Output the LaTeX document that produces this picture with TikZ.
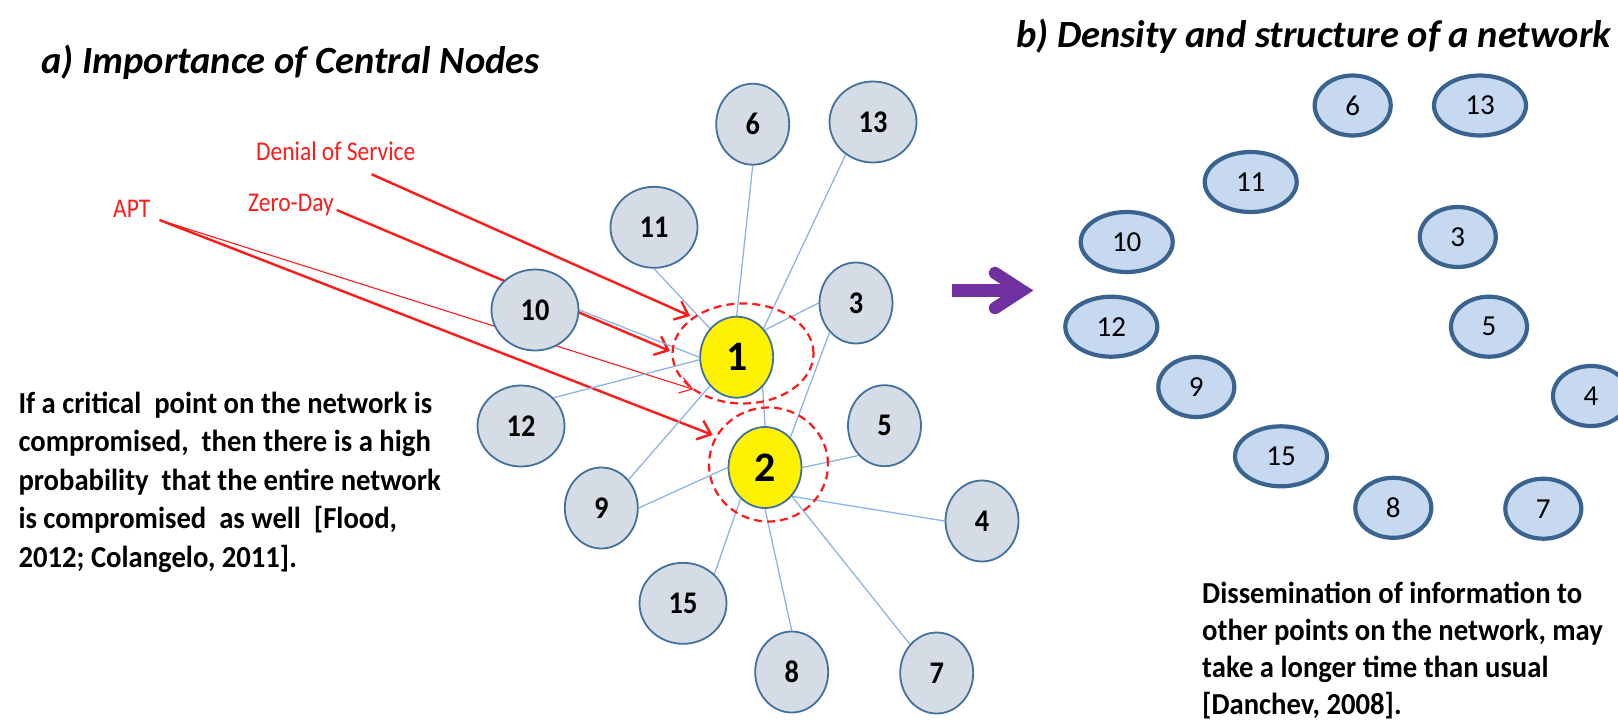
\documentclass[tikz,border=0pt]{standalone}
\usepackage{fontspec}
\setmainfont{Carlito}
\newfontfamily\peerfont{Carlito}[FakeStretch=0.9]
\newfontfamily\labelfont{Carlito}[FakeStretch=0.87]
\newfontfamily\parafont{Carlito}[FakeStretch=0.94]
\usetikzlibrary{shapes.geometric,arrows.meta,backgrounds}

\definecolor{nodefill}{HTML}{D6DCE5}
\definecolor{nodeline}{HTML}{41719C}
\definecolor{isofill}{HTML}{C6D9F1}
\definecolor{isoline}{HTML}{3A6390}
\definecolor{linkblue}{HTML}{8EB4E3}
\definecolor{attackred}{HTML}{FF1A1A}
\definecolor{arrowpurple}{HTML}{7030A0}

\begin{document}
\begin{tikzpicture}[x=1pt,y=-1pt,
  peer/.style={ellipse, draw=nodeline, line width=1.8pt, fill=nodefill,
    minimum width=73pt, minimum height=81pt, inner sep=0pt,
    font=\peerfont\bfseries\fontsize{31.5}{31.5}\selectfont},
  peerwide/.style={peer, minimum width=87pt},
  hub/.style={peer, fill=yellow, font=\bfseries\fontsize{42}{42}\selectfont},
  iso/.style={ellipse, draw=isoline, line width=4.2pt, fill=isofill,
    minimum width=76pt, minimum height=60pt, inner sep=0pt,
    font=\fontsize{29}{29}\selectfont},
  isowide/.style={iso, minimum width=92pt},
  ring/.style={ellipse, draw=attackred, line width=2.2pt,
    dash pattern=on 8pt off 5pt, inner sep=0pt},
  link/.style={draw=linkblue, line width=1.3pt},
  attack/.style={draw=attackred, line width=2.4pt,
    -{Straight Barb[length=12pt,width=20pt]}},
  attackthin/.style={draw=attackred, line width=1.1pt,
    -{Straight Barb[length=12pt,width=16pt]}},
  lab/.style={text=attackred, inner sep=0pt, anchor=base west,
    font=\labelfont\fontsize{27}{27}\selectfont},
  title/.style={inner sep=0pt, anchor=base west,
    font=\bfseries\itshape\fontsize{38.5}{38.5}\selectfont},
  para/.style={inner sep=0pt, anchor=north west, align=left},
]
\useasboundingbox (0,0) rectangle (1618,724);
\clip (0,0) rectangle (1618,724);

% headings
\node[title] (ta) at (41,73) {a) Importance of Central Nodes};
\node[title] (tb) at (1016,47.5) {b) Density and structure of a network};

% attack labels
\node[lab] (dos) at (256,160) {Denial of Service};
\node[lab] (zd) at (248,211) {Zero-Day};
\node[lab] (apt) at (113,217) {APT};

% dashed rings round the two central nodes
\node[ring, minimum width=141pt, minimum height=100pt] (r1) at (743,353.5) {};
\node[ring, minimum width=119pt, minimum height=114pt] (r2) at (768.5,464.5) {};

% star network
\node[hub] (n1) at (736.7,357.2) {1};
\node[hub] (n2) at (765,467.5) {2};
\node[peer] (n6) at (752.7,124.2) {6};
\node[peerwide] (n13) at (873,122) {13};
\node[peerwide] (n11) at (654,227.3) {11};
\node[peerwide] (n10) at (535,310) {10};
\node[peer] (n3) at (856,303) {3};
\node[peerwide] (n12) at (521,426) {12};
\node[peer] (n5) at (884.5,425.7) {5};
\node[peer] (n9) at (601.3,508) {9};
\node[peer] (n4) at (982,521) {4};
\node[peerwide] (n15) at (683,603.3) {15};
\node[peer] (n8) at (791.7,672) {8};
\node[peer] (n7) at (936.7,673) {7};

% attack arrow end points
\coordinate (dosA) at (371.7,174.3);
\coordinate (dosB) at (690,316);
\coordinate (zdA) at (336.7,210);
\coordinate (zdB) at (670,351);
\coordinate (aptA) at (159.5,220);
\coordinate (aptB) at (712.7,435);
\coordinate (aptC) at (693.3,389.3);

\begin{scope}[on background layer]
  \draw[attack] (dosA) -- (dosB);
  \draw[attack] (zdA) -- (zdB);
  \draw[attack] (aptA) -- (aptB);
  \draw[attackthin] (aptA) -- (aptC);

  \draw[link] (n11.270) -- (n1.133);
  \draw[link] (n6.270) -- (n1.90);
  \draw[link] (n13.230) -- (n1.47);
  \draw[link] (n3.180) -- (n1.44);
  \draw[link] (n10.0) -- (n1.180);
  \draw[link] (n12.41) -- (n1.184);
  \draw[link] (n9.46) -- (n1.227);
  \draw[link] (n1.311) -- (n2.90);
  \draw[link] (n3.228) -- (n2.50);
  \draw[link] (n9.0) -- (n2.180);
  \draw[link] (n5.229) -- (n2.0);
  \draw[link] (n2.313) -- (n4.180);
  \draw[link] (n2.313) -- (n7.133);
  \draw[link] (n2.232) -- (n15.43);
  \draw[link] (n2.270) -- (n8.90);
\end{scope}

% arrow between the panels
\coordinate (pa) at (951.7,290.5);
\coordinate (pb) at (1022,290.5);
\draw[arrowpurple, line width=12.3pt] (pa) -- (pb);
\draw[arrowpurple, line width=12.3pt, line cap=round, line join=miter]
  ([shift={(-27,-17.5)}]pb) -- (pb) -- ([shift={(-27,17.5)}]pb);

% isolated nodes
\node[iso] (m6) at (1352.7,105.5) {6};
\node[isowide] (m13) at (1480,105.5) {13};
\node[isowide] (m11) at (1250.7,182) {11};
\node[isowide] (m10) at (1126.7,242) {10};
\node[iso] (m3) at (1457.8,237) {3};
\node[isowide] (m12) at (1111.3,326.7) {12};
\node[iso] (m5) at (1489,326.7) {5};
\node[iso] (m9) at (1196.3,387) {9};
\node[iso] (m4) at (1591,396) {4};
\node[isowide] (m15) at (1281,456.3) {15};
\node[iso] (m8) at (1393.3,507.8) {8};
\node[iso] (m7) at (1543.3,508.7) {7};

% explanatory text
\node[para, font=\parafont\bfseries\fontsize{30.5}{38.4}\selectfont] (ptxt) at (18.3,386.3)
  {\rule{0pt}{27pt}If a critical~ point on the network is\\
   compromised,~ then there is a high\\
   probability~ that the entire network\\
   is compromised~ as well~ [Flood,\\
   2012; Colangelo, 2011].};
\node[para, font=\parafont\bfseries\fontsize{30.5}{37}\selectfont] (qtxt) at (1202,576)
  {\rule{0pt}{27pt}Dissemination of information to\\
   other points on the network, may\\
   take a longer time than usual\\
   {[}Danchev, 2008{]}.};
\end{tikzpicture}
\end{document}
